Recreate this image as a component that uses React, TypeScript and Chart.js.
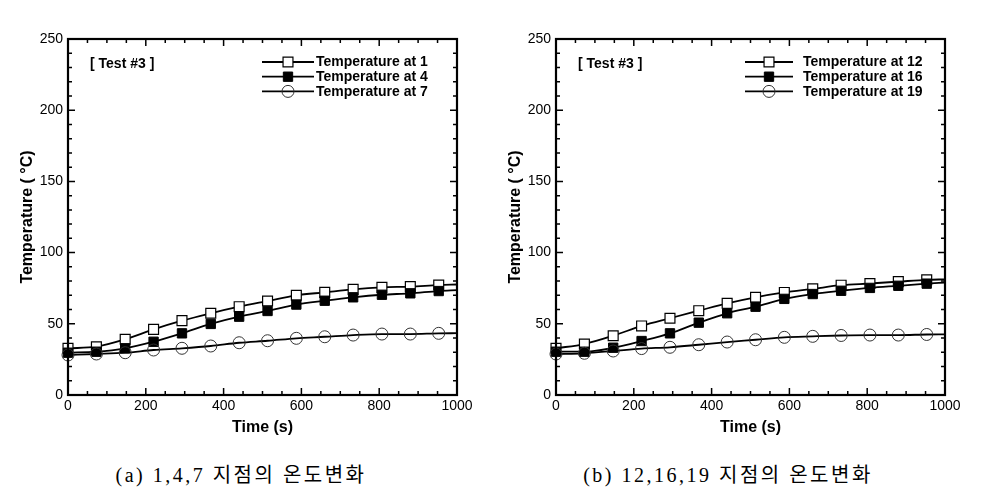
import React, { useEffect, useRef } from 'react';
import { Chart, registerables } from 'chart.js';

Chart.register(...registerables);

// ---------------- data ----------------
const TIMES = [0, 73, 147, 220, 293, 367, 440, 513, 587, 660, 733, 807, 880, 953];
const END_TIME = 1000;
const X_TICKS = [0, 200, 400, 600, 800, 1000];
const Y_TICKS = [0, 50, 100, 150, 200, 250];

const LABELS_A = ['Temperature at 1', 'Temperature at 4', 'Temperature at 7'];
const A_T1 = [32.8, 33.9, 39.1, 46.1, 52.2, 57.4, 62.0, 66.0, 70.0, 72.1, 74.2, 75.6, 76.1, 77.2];
const A_T4 = [29.7, 30.4, 32.8, 37.4, 43.3, 49.9, 55.0, 59.0, 63.5, 66.2, 68.6, 70.4, 71.4, 73.0];
const A_T7 = [28.1, 28.8, 29.7, 31.6, 32.8, 34.4, 36.7, 38.1, 39.8, 40.9, 42.1, 42.8, 42.8, 43.3];
const A_END = [77.6, 73.6, 43.4];

const LABELS_B = ['Temperature at 12', 'Temperature at 16', 'Temperature at 19'];
const B_T12 = [32.8, 35.8, 41.6, 48.5, 53.9, 59.2, 64.4, 68.6, 72.0, 74.5, 77.1, 78.3, 79.6, 80.9];
const B_T16 = [30.4, 30.4, 33.2, 37.9, 43.3, 50.8, 57.4, 62.0, 67.5, 70.9, 73.2, 75.2, 76.7, 78.2];
const B_T19 = [28.8, 29.3, 30.9, 32.6, 33.5, 35.3, 37.2, 38.8, 40.5, 41.2, 41.8, 42.1, 42.1, 42.5];
const B_END = [81.2, 79.0, 42.6];

const TEST_LABEL = '[ Test #3 ]';
const X_TITLE = 'Time (s)';
const Y_TITLE = 'Temperature ( °C)';
const CAPTION_A = '(a) 1,4,7 지점의 온도변화';
const CAPTION_B = '(b) 12,16,19 지점의 온도변화';

const SANS = "'Liberation Sans', Arial, Helvetica, sans-serif";
const SERIF = "'Liberation Serif', 'Noto Sans CJK KR', serif";

// ---------------- plugins ----------------
const frameTicks = {
  id: 'frameTicks',
  afterDatasetsDraw(chart: any) {
    const { ctx, chartArea, scales } = chart;
    const { left, right, top, bottom } = chartArea;
    const x = scales.x;
    const y = scales.y;
    ctx.save();
    ctx.strokeStyle = '#000';
    ctx.lineWidth = 1.5;
    ctx.beginPath();
    for (let v = 0; v <= END_TIME; v += 50) {
      const px = x.getPixelForValue(v);
      const len = X_TICKS.includes(v) ? 7 : 4;
      ctx.moveTo(px, bottom);
      ctx.lineTo(px, bottom - len);
      ctx.moveTo(px, top);
      ctx.lineTo(px, top + len);
    }
    for (let v = 0; v <= 250; v += 10) {
      const py = y.getPixelForValue(v);
      const len = Y_TICKS.includes(v) ? 7 : 4;
      ctx.moveTo(left, py);
      ctx.lineTo(left + len, py);
      ctx.moveTo(right, py);
      ctx.lineTo(right - len, py);
    }
    ctx.stroke();
    ctx.lineWidth = 2.2;
    ctx.strokeRect(left, top, right - left, bottom - top);
    ctx.restore();
  },
};

function drawMarker(ctx: CanvasRenderingContext2D, ds: any, cx: number, cy: number) {
  const r = ds.pointRadius0 as number;
  ctx.save();
  ctx.lineWidth = ds.pointBorderWidth;
  ctx.strokeStyle = ds.pointBorderColor;
  ctx.fillStyle = ds.pointBackgroundColor;
  ctx.beginPath();
  if (ds.pointStyle === 'rect') {
    const s = r * Math.SQRT1_2;
    ctx.rect(cx - s, cy - s, 2 * s, 2 * s);
  } else {
    ctx.arc(cx, cy, r, 0, Math.PI * 2);
  }
  ctx.fill();
  ctx.stroke();
  ctx.restore();
}

const innerLegend = {
  id: 'innerLegend',
  afterDraw(chart: any, _args: any, opts: any) {
    const { ctx, chartArea } = chart;
    const { left, top } = chartArea;
    ctx.save();
    ctx.fillStyle = '#000';
    ctx.font = `bold 14px ${SANS}`;
    ctx.textBaseline = 'middle';
    ctx.textAlign = 'left';
    ctx.fillText(opts.title, left + 22, top + 25);
    chart.data.datasets.forEach((ds: any, i: number) => {
      const yy = top + 23 + i * 14.7;
      ctx.strokeStyle = '#000';
      ctx.lineWidth = 1.8;
      ctx.beginPath();
      ctx.moveTo(left + opts.lineStart, yy);
      ctx.lineTo(left + opts.lineEnd, yy);
      ctx.stroke();
      drawMarker(ctx, ds, left + (opts.lineStart + opts.lineEnd) / 2, yy);
      ctx.fillStyle = '#000';
      ctx.font = `bold 14px ${SANS}`;
      ctx.fillText(ds.label, left + opts.textX, yy + 0.5);
    });
    ctx.restore();
  },
};

// ---------------- chart helpers ----------------
function toPoints(vals: number[], end: number) {
  return TIMES.map((t, i) => ({ x: t, y: vals[i] })).concat([{ x: END_TIME, y: end }]);
}

const STYLES = [
  { pointStyle: 'rect', r: 7, bg: '#fff', border: '#000', bw: 1.2, order: 2 },
  { pointStyle: 'rect', r: 6.6, bg: '#000', border: '#000', bw: 1, order: 1 },
  { pointStyle: 'circle', r: 6, bg: 'rgba(0,0,0,0)', border: '#333', bw: 1, order: 0 },
];

function makeDatasets(labels: string[], series: number[][], ends: number[]) {
  return series.map((vals, i) => {
    const st = STYLES[i];
    return {
      label: labels[i],
      data: toPoints(vals, ends[i]),
      borderColor: '#000',
      borderWidth: 1.8,
      tension: 0.4,
      cubicInterpolationMode: 'monotone',
      pointStyle: st.pointStyle,
      pointRadius: (c: any) => (c.dataIndex < TIMES.length ? st.r : 0),
      pointRadius0: st.r,
      pointBackgroundColor: st.bg,
      pointBorderColor: st.border,
      pointBorderWidth: st.bw,
      order: st.order,
      fill: false,
      clip: false,
    };
  });
}

function makeConfig(labels: string[], series: number[][], ends: number[], legendOpts: any): any {
  return {
    type: 'line',
    data: { datasets: makeDatasets(labels, series, ends) },
    plugins: [frameTicks, innerLegend],
    options: {
      animation: false,
      responsive: false,
      devicePixelRatio: 1,
      layout: { padding: { top: 39, right: 33, bottom: 0, left: 0 } },
      plugins: {
        legend: { display: false },
        tooltip: { enabled: false },
        innerLegend: legendOpts,
      },
      scales: {
        x: {
          type: 'linear',
          min: 0,
          max: END_TIME,
          afterBuildTicks: (s: any) => {
            s.ticks = X_TICKS.map((v) => ({ value: v }));
          },
          afterFit: (s: any) => {
            s.height = 50;
          },
          grid: { display: false, drawTicks: false },
          border: { display: false },
          ticks: {
            color: '#000',
            font: { size: 14, family: SANS },
            padding: 3,
            maxRotation: 0,
            callback: (v: any) => String(v),
          },
          title: {
            display: true,
            text: X_TITLE,
            color: '#000',
            font: { size: 16, weight: 'bold', family: SANS },
            padding: { top: 0, bottom: 8 },
          },
        },
        y: {
          type: 'linear',
          min: 0,
          max: 250,
          afterBuildTicks: (s: any) => {
            s.ticks = Y_TICKS.map((v) => ({ value: v }));
          },
          afterFit: (s: any) => {
            s.width = 68;
          },
          grid: { display: false, drawTicks: false },
          border: { display: false },
          ticks: {
            color: '#000',
            font: { size: 14, family: SANS },
            padding: 5,
            callback: (v: any) => String(v),
          },
          title: {
            display: true,
            text: Y_TITLE,
            color: '#000',
            font: { size: 16, weight: 'bold', family: SANS },
            padding: { top: 18, bottom: 0 },
          },
        },
      },
    },
  };
}

function Panel(props: { config: any; left: number }) {
  const ref = useRef<HTMLCanvasElement | null>(null);
  useEffect(() => {
    if (!ref.current) return;
    const chart = new Chart(ref.current, props.config);
    return () => chart.destroy();
  }, []);
  return (
    <canvas
      ref={ref}
      width={490}
      height={445}
      style={{ position: 'absolute', left: props.left, top: 0, width: 490, height: 445 }}
    />
  );
}

export default function App() {
  const cfgA = makeConfig(LABELS_A, [A_T1, A_T4, A_T7], A_END, {
    title: TEST_LABEL,
    lineStart: 194,
    lineEnd: 246,
    textX: 248,
  });
  const cfgB = makeConfig(LABELS_B, [B_T12, B_T16, B_T19], B_END, {
    title: TEST_LABEL,
    lineStart: 189,
    lineEnd: 237,
    textX: 247,
  });
  const capStyle: React.CSSProperties = {
    position: 'absolute',
    top: 459,
    width: 360,
    textAlign: 'center',
    fontFamily: SERIF,
    fontSize: 20,
    letterSpacing: '2.5px',
    color: '#000',
    whiteSpace: 'pre',
  };
  return (
    <div style={{ position: 'fixed', left: 0, top: 0, width: 988, height: 493, background: '#fff' }}>
      <Panel config={cfgA} left={0} />
      <Panel config={cfgB} left={488} />
      <div style={{ ...capStyle, left: 241 - 180 }}>{CAPTION_A}</div>
      <div style={{ ...capStyle, left: 728 - 180 }}>{CAPTION_B}</div>
    </div>
  );
}
